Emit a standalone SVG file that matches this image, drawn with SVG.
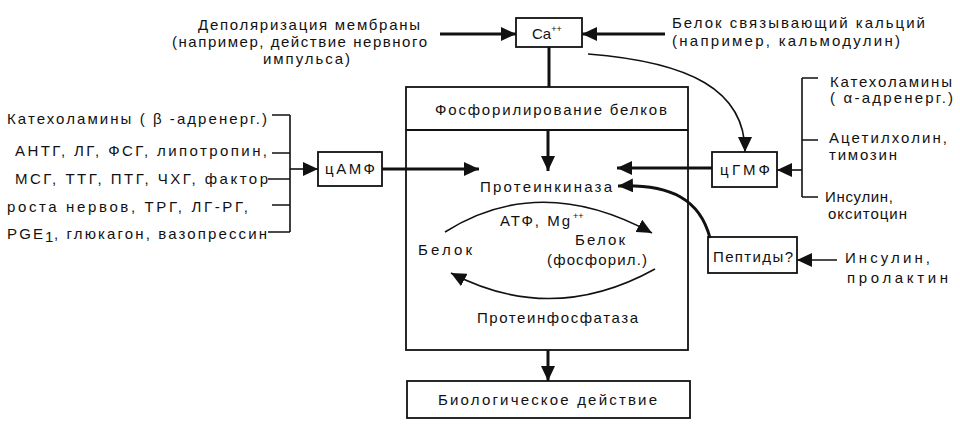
<svg xmlns="http://www.w3.org/2000/svg" width="960" height="428" viewBox="0 0 960 428">
<style>
text{font-family:"Liberation Sans",Arial,sans-serif;font-size:15px;fill:#111}
.box{fill:none;stroke:#111;stroke-width:1.8}
.thick{fill:none;stroke:#111;stroke-width:3}
.thin{fill:none;stroke:#111;stroke-width:1.6}
.arr{marker-end:url(#ah)}
.sup{font-size:9px}
</style>
<defs>
<marker id="ah" markerUnits="userSpaceOnUse" markerWidth="16" markerHeight="14" refX="15" refY="7" orient="auto" viewBox="0 0 16 14">
<path d="M0,0 L15,7 L0,14 z" fill="#111"/>
</marker>
</defs>
<rect width="960" height="428" fill="#fff"/>

<g id="depol">
<text x="198" y="30" textLength="222" lengthAdjust="spacing">Деполяризация мембраны</text>
<text x="172" y="47" textLength="255" lengthAdjust="spacing">(например, действие нервного</text>
<text x="263" y="64" textLength="87" lengthAdjust="spacing">импульса)</text>
</g>
<g id="calbind">
<text x="672" y="28" textLength="253" lengthAdjust="spacing">Белок связывающий кальций</text>
<text x="672" y="46" textLength="228" lengthAdjust="spacing">(например, кальмодулин)</text>
</g>
<g id="ca">
<rect class="box" x="516" y="18" width="66" height="29"/>
<text x="532" y="39">Ca<tspan class="sup" dy="-7">++</tspan></text>
</g>
<g id="main">
<rect class="box" x="406" y="87" width="282" height="263"/>
<line class="box" x1="406" y1="130" x2="688" y2="130"/>
<text x="435" y="115" textLength="232" lengthAdjust="spacing">Фосфорилирование белков</text>
<text x="480" y="192" textLength="132" lengthAdjust="spacing">Протеинкиназа</text>
<text x="500" y="226" textLength="70" lengthAdjust="spacing">АТФ, Mg</text>
<text x="573" y="219" class="sup">++</text>
<text x="418" y="255" textLength="54" lengthAdjust="spacing">Белок</text>
<text x="575" y="245" textLength="50" lengthAdjust="spacing">Белок</text>
<text x="547" y="265" textLength="100" lengthAdjust="spacing">(фосфорил.)</text>
<text x="477" y="323" textLength="161" lengthAdjust="spacing">Протеинфосфатаза</text>
</g>
<g id="camp">
<rect class="box" x="318" y="152" width="64" height="34"/>
<text x="325" y="174" textLength="50" lengthAdjust="spacing">цАМФ</text>
</g>
<g id="cgmp">
<rect class="box" x="712" y="152" width="65" height="35"/>
<text x="720" y="175" textLength="50" lengthAdjust="spacing">цГМФ</text>
</g>
<g id="peptides">
<rect class="box" x="708" y="237" width="89" height="36"/>
<text x="713" y="262" textLength="80" lengthAdjust="spacing">Пептиды?</text>
</g>
<g id="bio">
<rect class="box" x="407" y="381" width="283" height="37"/>
<text x="438" y="405" textLength="219" lengthAdjust="spacing">Биологическое действие</text>
</g>
<g id="left-list">
<text x="7" y="124" textLength="260" lengthAdjust="spacing">Катехоламины ( β -адренерг.)</text>
<text x="15" y="156" textLength="252" lengthAdjust="spacing">АНТГ, ЛГ, ФСГ, липотропин,</text>
<text x="15" y="184" textLength="253" lengthAdjust="spacing">МСГ, ТТГ, ПТГ, ЧХГ, фактор</text>
<text x="7" y="212" textLength="241" lengthAdjust="spacing">роста нервов, ТРГ, ЛГ-РГ,</text>
<text x="7" y="239" textLength="36" lengthAdjust="spacing">PGE</text>
<text x="45" y="242" font-size="10">1</text>
<text x="54" y="239" textLength="213" lengthAdjust="spacing">, глюкагон, вазопрессин</text>
</g>
<g id="right-list">
<text x="830" y="87" textLength="122" lengthAdjust="spacing">Катехоламины</text>
<text x="830" y="103" textLength="123" lengthAdjust="spacing">( α-адренерг.)</text>
<text x="829" y="143" textLength="118" lengthAdjust="spacing">Ацетилхолин,</text>
<text x="829" y="160" textLength="68" lengthAdjust="spacing">тимозин</text>
<text x="825" y="202" textLength="68" lengthAdjust="spacing">Инсулин,</text>
<text x="828" y="219" textLength="79" lengthAdjust="spacing">окситоцин</text>
<text x="845" y="263" textLength="85" lengthAdjust="spacing">Инсулин,</text>
<text x="847" y="283" textLength="101" lengthAdjust="spacing">пролактин</text>
</g>
<g id="connectors">
<line class="thick arr" x1="440" y1="34" x2="516" y2="34"/>
<line class="thick arr" x1="665" y1="34" x2="582" y2="34"/>
<line class="thick" x1="549" y1="47" x2="549" y2="87"/>
<line class="thick arr" x1="548" y1="130" x2="548" y2="171"/>
<path class="thin arr" d="M588,54 C690,62 745,90 745,152"/>
<path class="thin" d="M272,115 H290 M272,153 H290 M268,179 H290 M272,205 H290 M268,232 H290 M290,115 V232"/>
<line class="thin arr" x1="290" y1="169" x2="318" y2="169"/>
<line class="thick arr" x1="382" y1="169" x2="479" y2="169"/>
<path class="thin" d="M818,78 H802 M818,140 H802 M818,197 H802 M802,78 V197"/>
<line class="thin arr" x1="802" y1="170" x2="777" y2="170"/>
<line class="thick arr" x1="712" y1="168" x2="617" y2="168"/>
<path class="thick arr" d="M710,238 C700,200 672,184 618,186"/>
<line class="thin arr" x1="837" y1="260" x2="797" y2="260"/>
<path class="thin arr" d="M445,232 Q540,172 652,233"/>
<path class="thin arr" d="M655,269 Q552,326 451,273"/>
<line class="thick arr" x1="548" y1="350" x2="548" y2="381"/>
</g>
</svg>
